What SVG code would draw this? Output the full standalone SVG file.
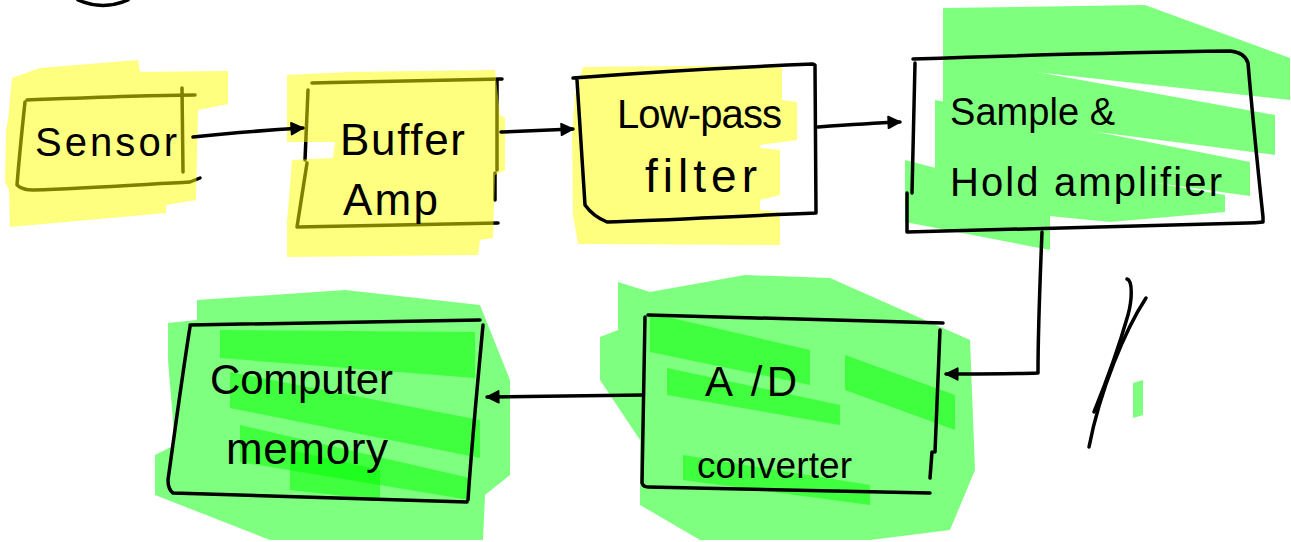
<svg xmlns="http://www.w3.org/2000/svg" width="1291" height="542" viewBox="0 0 1291 542">
<defs>
<style>
.ln{fill:none;stroke:#000;stroke-width:3.5;stroke-linecap:round;stroke-linejoin:round}
.yl{fill:#ffff00;fill-opacity:0.5}
.gu{fill:#00ff00}
.gr{fill:#00ff00;fill-opacity:0.5}
.tx{font-family:"Liberation Sans",Arial,sans-serif;fill:#000}
</style>
<marker id="ah" viewBox="0 0 12 12" refX="11" refY="6" markerWidth="15" markerHeight="14" markerUnits="userSpaceOnUse" orient="auto">
<path d="M1,1 L11,6 L1,11 Z" fill="#000" stroke="#000" stroke-width="1.5" stroke-linejoin="round"/>
</marker>
</defs>
<rect width="1291" height="542" fill="#fff"/>
<path class="ln" d="M78,0 Q103,11 128,0"/>

<g id="sensor">
<path class="ln" d="M27,100 C80,98 150,95 195,95"/>
<path class="ln" d="M182,88 L183,172"/>
<path class="ln" d="M25,102 C22,130 19,160 17,185 C22,190 28,190 33,190 C90,188 150,184 190,182 L200,178"/>
<path class="yl" d="M12,78 L40,68 L138,60 L140,72 L228,71 L228,104 L198,110 L196,200 L166,205 L166,213 L10,227 L9,190 L5,182 L6,130 L8,120 Z"/>
<text class="tx" x="35" y="156" font-size="40" textLength="142" lengthAdjust="spacing">Sensor</text>
</g>

<g id="buffer">
<path class="ln" d="M312,83 C380,81 450,80 502,79"/>
<path class="ln" d="M497,80 L497,170 M495,173 L495,200"/>
<path class="ln" d="M308,90 L305,160 M307,163 L297,227 C360,226 440,224 498,223"/>
<path class="yl" d="M287,75 L350,72 L495,70 L500,115 L505,118 L505,170 L495,175 L493,238 L480,240 L478,255 L287,257 L287,222 L292,160 L333,158 L335,142 L287,142 Z"/>
<text class="tx" x="340" y="155" font-size="44" textLength="125" lengthAdjust="spacing">Buffer</text>
<text class="tx" x="343" y="215" font-size="44" textLength="95" lengthAdjust="spacing">Amp</text>
</g>

<g id="lowpass">
<path class="yl" d="M583,67 L782,65 L782,100 L797,102 L797,140 L760,145 L760,148 L780,150 L780,195 L760,200 L760,210 L780,212 L780,245 L578,244 L573,215 L572,135 L575,95 Z"/>
<path class="ln" d="M573,78 C650,72 740,67 813,64 L815,65 L816,213 C740,216 670,220 607,222 C597,218 590,212 585,205 L577,80"/>
<text class="tx" x="617" y="128" font-size="40" textLength="165" lengthAdjust="spacing">Low-pass</text>
<text class="tx" x="645" y="192" font-size="46" textLength="112" lengthAdjust="spacing">filter</text>
</g>

<g id="samplehold">
<g opacity="0.5">
<path class="gu" d="M943,8 L1145,5 L1290,58 L1290,100 L943,62 Z"/>
<path class="gu" d="M943,55 L1275,115 L1275,155 L943,112 Z"/>
<path class="gu" d="M935,100 L1250,162 L1250,196 L935,152 Z"/>
<path class="gu" d="M935,145 L1225,195 L1225,212 L1110,222 L935,205 Z"/>
<path class="gu" d="M905,160 L1050,198 L1050,250 L905,222 Z"/>
</g>
<path class="ln" d="M913,59 C1000,56 1150,52 1230,51 C1240,52 1246,56 1248,63 C1252,110 1258,170 1263,217 L1263,222 C1255,223 1250,223 1247,223 C1130,226 1000,230 907,232 L907,193 M915,63 L912,193"/>
<text class="tx" x="950" y="125" font-size="38" textLength="165" lengthAdjust="spacing">Sample &amp;</text>
<text class="tx" x="950" y="196" font-size="40" textLength="272" lengthAdjust="spacing">Hold amplifier</text>
</g>

<g id="adconv">
<g opacity="0.5">
<path class="gu" d="M618,282 L650,292 L745,275 L830,278 L970,340 L975,470 L950,530 L870,540 L700,540 L640,505 L640,440 L600,380 L600,337 L618,330 Z"/>
</g>
<path class="gr" d="M650,313 L810,350 L810,385 L650,352 Z"/>
<path class="gr" d="M667,368 L840,405 L840,425 L667,395 Z"/>
<path class="gr" d="M845,355 L955,395 L955,430 L845,390 Z"/>
<path class="gr" d="M683,455 L870,485 L870,505 L683,480 Z"/>
<path class="ln" d="M648,315 C750,318 850,321 943,323 M645,317 C644,370 643,430 642,483 C643,486 645,487 648,487 C740,489 840,491 930,493 M940,330 L935,452 M932,452 L930,478"/>
<text class="tx" x="705" y="396" font-size="42" textLength="92" lengthAdjust="spacing">A /D</text>
<text class="tx" x="697" y="478" font-size="37" textLength="155" lengthAdjust="spacing">converter</text>
</g>

<g id="computermemory">
<g opacity="0.5">
<path class="gu" d="M197,300 L345,290 L480,305 L490,330 L510,380 L510,475 L485,495 L483,540 L270,540 L155,495 L155,455 L175,445 L168,360 L168,323 L197,320 Z"/>
</g>
<path class="gr" d="M220,330 L475,332 L475,378 L220,358 Z"/>
<path class="gr" d="M230,372 L480,420 L480,458 L230,408 Z"/>
<path class="gr" d="M240,425 L470,478 L470,500 L240,462 Z"/>
<path class="gr" d="M290,450 L380,470 L380,500 L290,490 Z"/>
<path class="ln" d="M190,325 C290,323 390,321 480,320 M483,325 C478,380 472,440 468,500 M467,502 C370,499 270,496 173,493 C169,490 168,486 168,480 C175,430 183,370 190,327"/>
<text class="tx" x="210" y="394" font-size="42" textLength="183" lengthAdjust="spacing">Computer</text>
<text class="tx" x="226" y="464" font-size="44" textLength="162" lengthAdjust="spacing">memory</text>
</g>

<g id="mark">
<path class="ln" d="M1127,279 C1133,281 1132,300 1128,315 C1118,350 1105,385 1094,412"/>
<path class="ln" d="M1146,298 C1125,330 1100,390 1089,447"/>
<path d="M1133,383 L1143,380 L1143,415 L1133,418 Z" fill="#00ff00" fill-opacity="0.5"/>
</g>

<g id="connectors">
<path class="ln" d="M193,137 C230,133 270,130 303,128" marker-end="url(#ah)"/>
<path class="ln" d="M501,132 C525,131 550,130 573,129" marker-end="url(#ah)"/>
<path class="ln" d="M818,127 C845,125 875,123 900,122" marker-end="url(#ah)"/>
<path class="ln" d="M1042,232 C1040,280 1038,330 1038,373 C1010,374 980,374 946,374" marker-end="url(#ah)"/>
<path class="ln" d="M643,395 C590,396 540,396 487,397" marker-end="url(#ah)"/>
</g>
</svg>
